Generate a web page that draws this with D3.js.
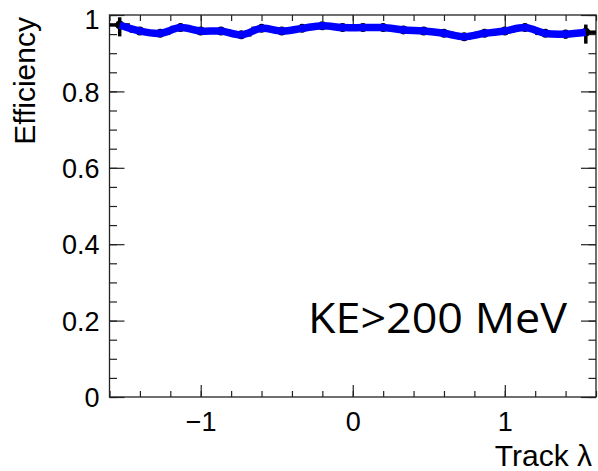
<!DOCTYPE html>
<html>
<head>
<meta charset="utf-8">
<script src="https://cdn.jsdelivr.net/npm/d3@7"></script>
<style>
  body { margin: 0; background: #fff; }
  svg { display: block; }
</style>
</head>
<body>
<div id="wrap"></div>
<script>
//  Values: bin centres in track lambda and the efficiency
const lambdaBins = [
  -1.533, -1.4, -1.267, -1.133, -1.0, -0.867, -0.733, -0.6, -0.467, -0.333,
  -0.2, -0.067, 0.067, 0.2, 0.333, 0.467, 0.6, 0.733, 0.867, 1.0, 1.133,
  1.267, 1.4, 1.533,
];
const efficiency = [
  0.974, 0.958, 0.952, 0.967, 0.958, 0.958, 0.948, 0.965, 0.958, 0.965,
  0.972, 0.967, 0.967, 0.967, 0.961, 0.958, 0.952, 0.943, 0.952, 0.958,
  0.967, 0.952, 0.95, 0.955,
];
//  Error bars (only the end bins really show)
const errLow = [
  0.03, 0.004, 0.004, 0.004, 0.004, 0.004, 0.004, 0.004, 0.004, 0.004,
  0.004, 0.004, 0.004, 0.004, 0.004, 0.004, 0.004, 0.004, 0.004, 0.004,
  0.004, 0.004, 0.012, 0.03,
];
const errHigh = [
  0.02, 0.004, 0.004, 0.004, 0.004, 0.004, 0.004, 0.004, 0.004, 0.004,
  0.004, 0.004, 0.004, 0.004, 0.004, 0.004, 0.004, 0.004, 0.004, 0.004,
  0.004, 0.004, 0.004, 0.02,
];
const binHalfWidth = 0.0667;

const xTicks = [-1, 0, 1];
const xTickLabels = ["\u22121", "0", "1"];
const yTicks = [0, 0.2, 0.4, 0.6, 0.8, 1];
const yTickLabels = ["0", "0.2", "0.4", "0.6", "0.8", "1"];

const xTitle = "Track \u03bb";
const yTitle = "Efficiency";
const note = "KE>200 MeV";

//  Frame of the plot in page pixels
const W = 598, H = 471;
const frame = { left: 109.5, right: 596, top: 15, bottom: 397 };

const x = d3.scaleLinear().domain([-1.6, 1.6]).range([frame.left, frame.right]);
const y = d3.scaleLinear().domain([0, 1]).range([frame.bottom, frame.top]);

const svg = d3
  .select("#wrap")
  .append("svg")
  .attr("width", W)
  .attr("height", H)
  .style("font-family", "'Liberation Sans', Arial, sans-serif");

//  Axes: labels on bottom/left, ticks mirrored on top/right (ROOT style)
const xMinor = d3.range(-1.6, 1.61, 0.2).map((v) => +v.toFixed(2));
const yMinor = d3.range(0, 1.001, 0.05).map((v) => +v.toFixed(2));

function addAxis(axisFn, scale, transform, major, minor, majLen, minLen, labels) {
  const g = svg.append("g").attr("transform", transform);
  g.call(axisFn(scale).tickValues(minor).tickSize(minLen).tickFormat(""));
  g.select(".domain").remove();
  const g2 = svg.append("g").attr("transform", transform);
  g2.call(
    axisFn(scale)
      .tickValues(major)
      .tickSize(majLen)
      .tickFormat((d, i) => (labels ? labels[i] : ""))
  );
  g2.select(".domain").remove();
  g.selectAll(".tick line").attr("stroke", "#222").attr("stroke-width", 1.2);
  g2.selectAll(".tick line").attr("stroke", "#222").attr("stroke-width", 1.2);
  return g2;
}

//  ticks point inward, so use the "opposite" d3 axis for each side
const gx = addAxis(d3.axisTop, x, `translate(0,${frame.bottom})`, xTicks, xMinor, 12, 6, xTickLabels);
gx.selectAll("text")
  .attr("y", 34)
  .attr("dy", 0)
  .attr("fill", "#000")
  .style("font-size", "27px");
addAxis(d3.axisBottom, x, `translate(0,${frame.top})`, xTicks, xMinor, 12, 6, null);

const gy = addAxis(d3.axisRight, y, `translate(${frame.left},0)`, yTicks, yMinor, 15, 7.5, yTickLabels);
gy.selectAll("text")
  .attr("x", -10)
  .attr("dy", "0.36em")
  .attr("text-anchor", "end")
  .attr("fill", "#000")
  .style("font-size", "27px");
gy.selectAll(".tick")
  .filter((d) => d === 1)
  .select("text")
  .attr("dy", "0.5em");
addAxis(d3.axisLeft, y, `translate(${frame.right},0)`, yTicks, yMinor, 15, 7.5, null);

//  Frame
svg
  .append("rect")
  .attr("x", frame.left)
  .attr("y", frame.top)
  .attr("width", frame.right - frame.left)
  .attr("height", frame.bottom - frame.top)
  .attr("fill", "none")
  .attr("stroke", "#222")
  .attr("stroke-width", 1.3);

//  Axis titles
svg
  .append("text")
  .attr("x", 592)
  .attr("y", 466)
  .attr("text-anchor", "end")
  .style("font-size", "30px")
  .text(xTitle);

svg
  .append("text")
  .attr("transform", "translate(35,17) rotate(-90)")
  .attr("text-anchor", "end")
  .style("font-size", "30px")
  .text(yTitle);

//  Data
const pts = lambdaBins.map((l, i) => ({
  l: l,
  e: efficiency[i],
  lo: errLow[i],
  hi: errHigh[i],
}));

const errs = svg.append("g").attr("stroke", "#000").attr("stroke-width", 3.5);
errs
  .selectAll(".ev")
  .data(pts)
  .enter()
  .append("line")
  .attr("x1", (d) => x(d.l))
  .attr("x2", (d) => x(d.l))
  .attr("y1", (d) => y(d.e - d.lo))
  .attr("y2", (d) => y(d.e + d.hi));
errs
  .selectAll(".eh")
  .data(pts)
  .enter()
  .append("line")
  .attr("x1", (d) => x(Math.max(-1.6, d.l - binHalfWidth)))
  .attr("x2", (d) => x(Math.min(1.6, d.l + binHalfWidth)))
  .attr("y1", (d) => y(d.e))
  .attr("y2", (d) => y(d.e));

svg
  .append("g")
  .selectAll("circle")
  .data(pts)
  .enter()
  .append("circle")
  .attr("cx", (d) => x(d.l))
  .attr("cy", (d) => y(d.e))
  .attr("r", 4.5)
  .attr("fill", "#000");

const line = d3
  .line()
  .x((d) => x(d.l))
  .y((d) => y(d.e))
  .curve(d3.curveCatmullRom);

svg
  .append("path")
  .datum(pts)
  .attr("d", line)
  .attr("fill", "none")
  .attr("stroke", "#0000ff")
  .attr("stroke-width", 7.5)
  .attr("stroke-linejoin", "round");

//  Annotation
svg
  .append("text")
  .attr("x", 308)
  .attr("y", 333)
  .attr("textLength", 259)
  .attr("lengthAdjust", "spacingAndGlyphs")
  .style("font-family", "'Open Sans', 'Noto Sans', sans-serif")
  .style("font-size", "42px")
  .text(note);
</script>
</body>
</html>
